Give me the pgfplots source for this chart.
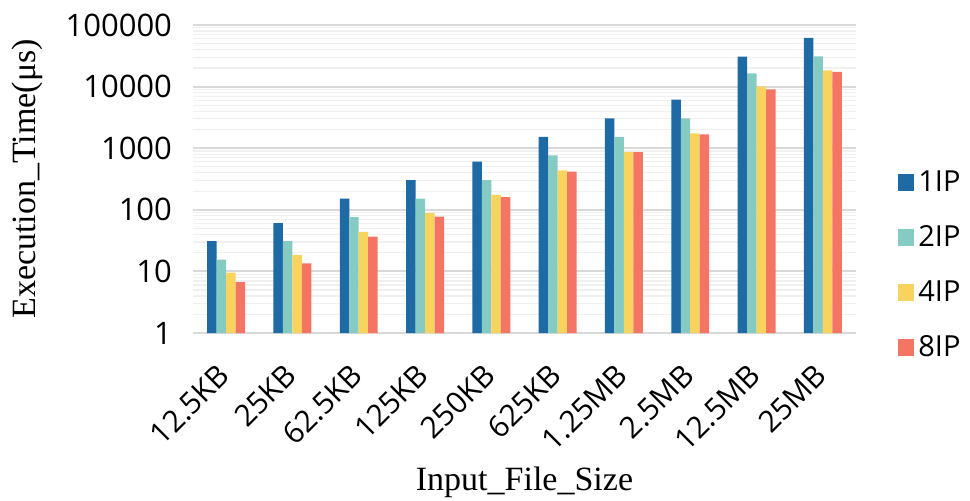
\documentclass[border=0pt]{standalone}
\usepackage{pgfplots}
\pgfplotsset{compat=1.18}
\usepackage{fontspec}
\setmainfont{Liberation Serif}
\newfontfamily\labelfont{Open Sans}
\definecolor{c1}{HTML}{1D6AA5}
\definecolor{c2}{HTML}{86CBC3}
\definecolor{c3}{HTML}{F8D35E}
\definecolor{c4}{HTML}{F47564}
\definecolor{gmaj}{HTML}{D9D9D9}
\definecolor{gmin}{HTML}{F0F0F0}
\begin{document}
\begin{tikzpicture}
\useasboundingbox (-96.5pt,-83.5pt) rectangle (388.5pt,166.5pt);
\begin{axis}[
  scale only axis, width=331.5pt, height=154pt,
  ymode=log, ymin=1, ymax=100000,
  xmin=-0.5, xmax=9.5,
  ybar=0pt, bar width=0.143,
  xtick={0,...,9},
  xticklabels={12.5KB,25KB,62.5KB,125KB,250KB,625KB,1.25MB,2.5MB,12.5MB,25MB},
  ytick={1,10,100,1000,10000,100000},
  yticklabels={1,10,100,1000,10000,100000},
  minor ytick={2,3,4,5,6,7,8,9,20,30,40,50,60,70,80,90,200,300,400,500,600,700,800,900,2000,3000,4000,5000,6000,7000,8000,9000,20000,30000,40000,50000,60000,70000,80000,90000},
  ymajorgrids, yminorgrids,
  major grid style={draw=gmaj, line width=1pt},
  minor grid style={draw=gmin, line width=0.6pt},
  axis line style={draw=none},
  major tick length=0pt, minor tick length=0pt,
  xticklabel style={font=\labelfont\fontsize{15}{18}\selectfont, anchor=east, xshift=1.5pt, yshift=-16pt, rotate=45},
  yticklabel style={font=\labelfont\fontsize{15.5}{18}\selectfont, xshift=-7pt},
  xlabel={Input\_File\_Size},
  ylabel={Execution\_Time(μs)},
  label style={font=\fontsize{17}{20}\selectfont},
  xlabel style={at={(axis description cs:0.5,-0.484)}, anchor=center},
  ylabel style={at={(axis description cs:-0.2504,0.5)}, anchor=center, rotate=0},
  legend style={at={(axis description cs:1.053,0.22)}, anchor=west, draw=none, fill=none,
    font=\labelfont\fontsize{14.5}{16}\selectfont, row sep=11.5pt, cells={anchor=west}},
  sq/.style={legend image code/.code={\fill[##1, draw=none] (0pt,-4.2pt) rectangle (8.4pt,4.2pt);}},
]
\addplot[fill=c1, draw=none, sq] coordinates {(0,31) (1,61) (2,152) (3,303) (4,607) (5,1525) (6,3060) (7,6150) (8,30700) (9,62000)};
\addplot[fill=c2, draw=none, sq] coordinates {(0,15.5) (1,31) (2,76) (3,152) (4,303) (5,768) (6,1525) (7,3060) (8,16400) (9,31000)};
\addplot[fill=c3, draw=none, sq] coordinates {(0,9.6) (1,18.4) (2,44) (3,88) (4,175) (5,438) (6,868) (7,1745) (8,9980) (9,18400)};
\addplot[fill=c4, draw=none, sq] coordinates {(0,6.7) (1,13.5) (2,36.8) (3,77.5) (4,161) (5,418) (6,860) (7,1685) (8,9040) (9,17300)};
\legend{1IP,2IP,4IP,8IP}
\end{axis}
\end{tikzpicture}
\end{document}
